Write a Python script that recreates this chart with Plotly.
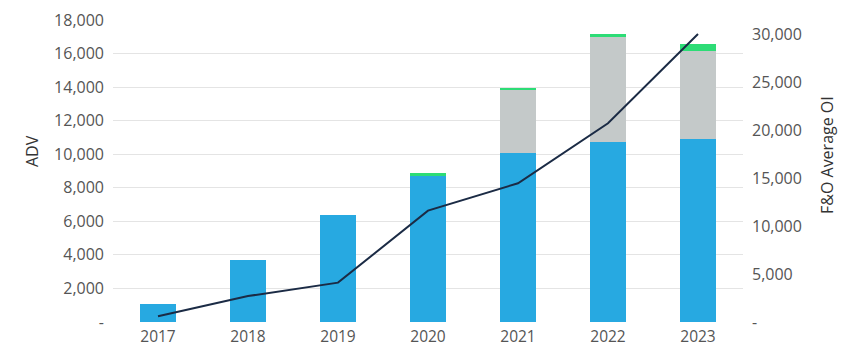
import plotly.graph_objects as go

years = ["2017", "2018", "2019", "2020", "2021", "2022", "2023"]
adv_blue = [1100, 3700, 6350, 8700, 10050, 10750, 10900]
adv_gray = [0, 0, 0, 0, 3830, 6220, 5270]
adv_green = [0, 0, 0, 200, 80, 180, 380]
avg_oi = [600, 2700, 4100, 11600, 14450, 20700, 30000]

left_ticks = [0, 2000, 4000, 6000, 8000, 10000, 12000, 14000, 16000, 18000]
left_text = ["-"] + [f"{v:,}" for v in left_ticks[1:]]
right_ticks = [0, 5000, 10000, 15000, 20000, 25000, 30000]
right_text = ["-"] + [f"{v:,}" for v in right_ticks[1:]]

FONT = "Open Sans"
TICK_COLOR = "#555555"
TS = 16

fig = go.Figure()
fig.add_trace(go.Bar(x=years, y=adv_blue, marker=dict(color="#27a9e1", line=dict(width=0)), width=0.4))
fig.add_trace(go.Bar(x=years, y=adv_gray, marker=dict(color="#c4c9c9", line=dict(width=0)), width=0.4))
fig.add_trace(go.Bar(x=years, y=adv_green, marker=dict(color="#2ddc76", line=dict(width=0)), width=0.4))
fig.add_trace(go.Scatter(x=years, y=avg_oi, mode="lines", yaxis="y2",
                         line=dict(color="#1b2b45", width=2)))

fig.update_layout(
    width=857, height=348, autosize=False,
    margin=dict(l=113, r=114, t=20, b=26),
    barmode="stack",
    showlegend=False,
    plot_bgcolor="white", paper_bgcolor="white",
    font=dict(family=FONT, size=TS, color=TICK_COLOR),
    xaxis=dict(showgrid=False, zeroline=False, showline=False, ticks="",
               automargin=False, ticklabelstandoff=3,
               tickfont=dict(size=15.5, color=TICK_COLOR)),
    yaxis=dict(range=[0, 18000], tickvals=left_ticks, ticktext=left_text,
               showgrid=True, gridcolor="#e4e4e4", gridwidth=1,
               zeroline=False, showline=False, ticks="", ticklabelstandoff=8,
               automargin=False,
               tickfont=dict(size=TS, color=TICK_COLOR)),
    yaxis2=dict(range=[0, 31458], overlaying="y", side="right",
                tickvals=right_ticks, ticktext=right_text,
                showgrid=False, zeroline=False, showline=False, ticks="",
                ticklabelstandoff=8, automargin=False,
                tickfont=dict(size=TS, color=TICK_COLOR)),
    annotations=[
        dict(text="ADV", xref="paper", yref="paper", x=(32-113)/630, y=(322-151)/302,
             xanchor="center", yanchor="middle", textangle=-90, showarrow=False,
             font=dict(size=TS, color="#333333", family=FONT)),
        dict(text="F&O Average OI", xref="paper", yref="paper", x=(827-113)/630, y=(322-155)/302,
             xanchor="center", yanchor="middle", textangle=-90, showarrow=False,
             font=dict(size=TS, color="#333333", family=FONT)),
    ],
)

fig.write_html("out.html")
